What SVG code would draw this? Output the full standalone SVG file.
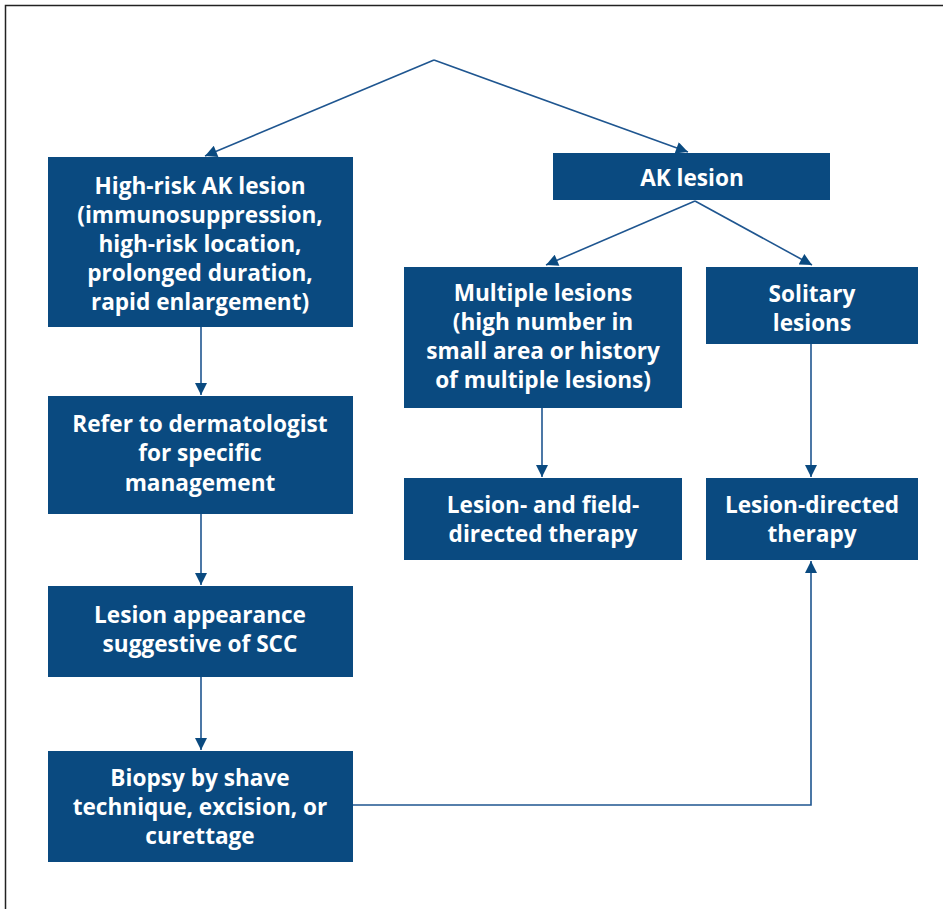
<svg xmlns="http://www.w3.org/2000/svg" width="943" height="909" viewBox="0 0 943 909">
<defs>
<style>
.box{fill:#0a4a80}
.t{font-family:"Open Sans","Noto Sans",sans-serif;font-weight:bold;font-size:22.6px;fill:#ffffff;text-anchor:middle}
.c{fill:none;stroke:#1f5690;stroke-width:1.6}
</style>
<marker id="ah2" viewBox="0 0 10 10" refX="10" refY="5" markerWidth="15" markerHeight="12" markerUnits="userSpaceOnUse" orient="auto">
<path d="M0,0 L10,5 L0,10 z" fill="#0a4a80"/>
</marker>
</defs>
<rect x="0" y="0" width="943" height="909" fill="#ffffff"/>
<path d="M5.5,909 V5.5 H943" fill="none" stroke="#222" stroke-width="1.5"/>
<g id="connectors">
<path class="c" d="M434,60 L205,156" marker-end="url(#ah2)"/>
<path class="c" d="M434,60 L688,152" marker-end="url(#ah2)"/>
<path class="c" d="M695,201 L546,265" marker-end="url(#ah2)"/>
<path class="c" d="M695,201 L812,265" marker-end="url(#ah2)"/>
<path class="c" d="M201,327 V395" marker-end="url(#ah2)"/>
<path class="c" d="M201,514 V585" marker-end="url(#ah2)"/>
<path class="c" d="M201,677 V750" marker-end="url(#ah2)"/>
<path class="c" d="M542,408 V477" marker-end="url(#ah2)"/>
<path class="c" d="M811,344 V477" marker-end="url(#ah2)"/>
<path class="c" d="M353,805 H811 V561" marker-end="url(#ah2)"/>
</g>
<g id="highrisk">
<rect class="box" x="48" y="157" width="305" height="170"/>
<text class="t" x="200" y="194">High-risk AK lesion</text>
<text class="t" x="200" y="223">(immunosuppression,</text>
<text class="t" x="200" y="252">high-risk location,</text>
<text class="t" x="200" y="281">prolonged duration,</text>
<text class="t" x="200" y="310">rapid enlargement)</text>
</g>
<g id="ak">
<rect class="box" x="553" y="153" width="277" height="47"/>
<text class="t" x="692" y="186">AK lesion</text>
</g>
<g id="multiple">
<rect class="box" x="404" y="267" width="278" height="141"/>
<text class="t" x="543" y="301">Multiple lesions</text>
<text class="t" x="543" y="330">(high number in</text>
<text class="t" x="543" y="359">small area or history</text>
<text class="t" x="543" y="388">of multiple lesions)</text>
</g>
<g id="solitary">
<rect class="box" x="706" y="267" width="212" height="77"/>
<text class="t" x="812" y="302">Solitary</text>
<text class="t" x="812" y="331">lesions</text>
</g>
<g id="fieldtherapy">
<rect class="box" x="404" y="478" width="278" height="82"/>
<text class="t" x="543" y="513">Lesion- and field-</text>
<text class="t" x="543" y="542">directed therapy</text>
</g>
<g id="lesiontherapy">
<rect class="box" x="706" y="478" width="212" height="82"/>
<text class="t" x="812" y="513">Lesion-directed</text>
<text class="t" x="812" y="542">therapy</text>
</g>
<g id="refer">
<rect class="box" x="48" y="396" width="305" height="118"/>
<text class="t" x="200" y="432">Refer to dermatologist</text>
<text class="t" x="200" y="461">for specific</text>
<text class="t" x="200" y="491">management</text>
</g>
<g id="appearance">
<rect class="box" x="48" y="586" width="305" height="91"/>
<text class="t" x="200" y="623">Lesion appearance</text>
<text class="t" x="200" y="652">suggestive of SCC</text>
</g>
<g id="biopsy">
<rect class="box" x="48" y="751" width="305" height="111"/>
<text class="t" x="200" y="786">Biopsy by shave</text>
<text class="t" x="200" y="815">technique, excision, or</text>
<text class="t" x="200" y="844">curettage</text>
</g>
</svg>
